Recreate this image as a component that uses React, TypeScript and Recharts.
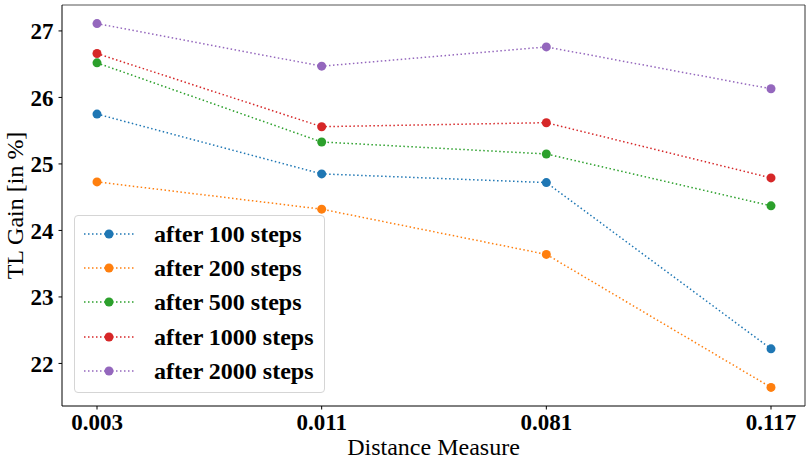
import { LineChart, Line, XAxis, YAxis } from 'recharts'

const FONT = '"Liberation Serif", "Times New Roman", serif'

const distances = ['0.003', '0.011', '0.081', '0.117']
const after100 = [25.75, 24.85, 24.72, 22.22]
const after200 = [24.73, 24.32, 23.64, 21.64]
const after500 = [26.52, 25.33, 25.15, 24.37]
const after1000 = [26.66, 25.56, 25.62, 24.79]
const after2000 = [27.11, 26.47, 26.76, 26.13]
const yTicks = [22, 23, 24, 25, 26, 27]

const SERIES = [
  { key: 's100', name: 'after 100 steps', values: after100, color: '#1f77b4' },
  { key: 's200', name: 'after 200 steps', values: after200, color: '#ff7f0e' },
  { key: 's500', name: 'after 500 steps', values: after500, color: '#2ca02c' },
  { key: 's1000', name: 'after 1000 steps', values: after1000, color: '#d62728' },
  { key: 's2000', name: 'after 2000 steps', values: after2000, color: '#9467bd' },
]

const data = distances.map((d, i) => {
  const row: Record<string, string | number> = { distance: d }
  SERIES.forEach((s) => { row[s.key] = s.values[i] })
  return row
})

const DOT_DASH = '1.5 2.5'

function LegendBox() {
  return (
    <div
      style={{
        position: 'absolute',
        left: 74,
        top: 215,
        boxSizing: 'border-box',
        width: 251,
        height: 178,
        border: '1px solid #d5d5d5',
        borderRadius: 4,
        background: 'rgba(255,255,255,0.8)',
        padding: '1px 0 0 9px',
      }}
    >
      {SERIES.map((s) => (
        <div key={s.key} style={{ display: 'flex', alignItems: 'center', height: 34.2 }}>
          <svg width={50} height={12} style={{ marginRight: 20 }}>
            <line x1={0} y1={6} x2={50} y2={6} stroke={s.color} strokeWidth={1.5} strokeDasharray={DOT_DASH} />
            <circle cx={25} cy={6} r={4.5} fill={s.color} />
          </svg>
          <span style={{ fontFamily: FONT, fontWeight: 'bold', fontSize: 24, color: '#000', lineHeight: 1 }}>{s.name}</span>
        </div>
      ))}
    </div>
  )
}

export default function App() {
  return (
    <div style={{ position: 'absolute', left: 0, top: 0, width: 812, height: 463, background: '#fff' }}>
      <LineChart width={812} height={463} data={data} margin={{ top: 4, right: 6, left: 0, bottom: 0 }}>
        <XAxis
          dataKey="distance"
          type="category"
          padding={{ left: 35, right: 34 }}
          height={57}
          stroke="#000"
          tickSize={3.5}
          tickMargin={4}
          tick={{ fill: '#000', fontFamily: FONT, fontWeight: 'bold', fontSize: 23 }}
          label={{
            content: ({ viewBox }: any) => (
              <text
                x={viewBox.x + viewBox.width / 2}
                y={viewBox.y + 49}
                textAnchor="middle"
                fontFamily={FONT}
                fontSize={24}
                fill="#000"
              >
                Distance Measure
              </text>
            ),
          }}
        />
        <XAxis xAxisId="top" dataKey="distance" orientation="top" height={1} tick={false} tickLine={false} stroke="#555" />
        <YAxis
          domain={[21.36, 27.39]}
          ticks={yTicks}
          width={62}
          stroke="#000"
          tickSize={3.5}
          tickMargin={5}
          allowDataOverflow
          tick={{ fill: '#000', fontFamily: FONT, fontWeight: 'bold', fontSize: 23 }}
          label={{
            content: ({ viewBox }: any) => {
              const cx = 15
              const cy = viewBox.y + viewBox.height / 2
              return (
                <text
                  x={cx}
                  y={cy}
                  transform={`rotate(-90 ${cx} ${cy})`}
                  textAnchor="middle"
                  dominantBaseline="central"
                  fontFamily={FONT}
                  fontSize={24}
                  fill="#000"
                >
                  TL Gain [in %]
                </text>
              )
            },
          }}
        />
        <YAxis yAxisId="right" orientation="right" width={1} tick={false} tickLine={false} stroke="#333" />
        {SERIES.map((s) => (
          <Line
            key={s.key}
            dataKey={s.key}
            name={s.name}
            stroke={s.color}
            strokeWidth={1.5}
            strokeDasharray={DOT_DASH}
            dot={{ r: 4.5, fill: s.color, stroke: s.color, strokeWidth: 0, strokeDasharray: '' }}
            activeDot={false}
            type="linear"
            isAnimationActive={false}
          />
        ))}
      </LineChart>
      <LegendBox />
    </div>
  )
}
